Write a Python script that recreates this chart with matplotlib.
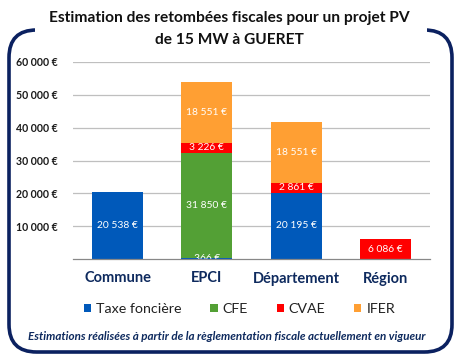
import matplotlib
matplotlib.use("Agg")
import matplotlib.pyplot as plt
from matplotlib.patches import FancyBboxPatch, Patch, Rectangle
import numpy as np

categories = ["Commune", "EPCI", "Département", "Région"]
series_names = ["Taxe foncière", "CFE", "CVAE", "IFER"]
taxe_fonciere = [20538, 366, 20195, 0]
cfe = [0, 31850, 0, 0]
cvae = [0, 3226, 2861, 6086]
ifer = [0, 18551, 18551, 0]
yticks = [10000, 20000, 30000, 40000, 50000, 60000]
ytick_labels = ["10 000 €", "20 000 €", "30 000 €", "40 000 €", "50 000 €", "60 000 €"]

colors = ["#0059BA", "#53A035", "#FF0000", "#FF9F33"]
navy = "#0E2A5E"
plt.rcParams['font.family'] = ['Lato', 'DejaVu Sans']

W, H = 459, 358
fig = plt.figure(figsize=(W/100, H/100), dpi=100)

# frame
frame = FancyBboxPatch((9/W, 6/H), 443/W, 322/H,
                       boxstyle="round,pad=0,rounding_size=0.06",
                       transform=fig.transFigure, fill=False,
                       edgecolor="#0B2160", linewidth=2.6, zorder=0,
                       mutation_aspect=W/H)
fig.patches.append(frame)
fig.patches.append(Rectangle((35/W, 318/H), 392/W, 20/H, transform=fig.transFigure,
                             facecolor="white", edgecolor="none", zorder=1))

fig.text(0.5, 1-18/H, "Estimation des retombées fiscales pour un projet PV",
         ha="center", va="center", fontsize=11.2, fontweight="bold", color="#111111")
fig.text(0.5, 1-40/H, "de 15 MW à GUERET",
         ha="center", va="center", fontsize=11.2, fontweight="bold", color="#111111")

ax = fig.add_axes([73/W, 1-259/H, 357/W, 197/H])
x = np.arange(len(categories))
width = 0.57
series = [taxe_fonciere, cfe, cvae, ifer]
bottom = np.zeros(len(categories))
for vals, col in zip(series, colors):
    vals = np.array(vals, dtype=float)
    ax.bar(x, vals, width, bottom=bottom, color=col, zorder=3)
    for xi, v, b in zip(x, vals, bottom):
        if v > 0:
            lab = f"{int(v):,}".replace(",", " ") + " €"
            ax.text(xi, b + v/2, lab, ha="center", va="center", color="white",
                    fontsize=7.4, zorder=4, clip_on=True)
    bottom += vals

ax.set_xlim(-0.5, len(categories) - 0.5)
ax.set_ylim(0, 60000)
ax.set_yticks(yticks)
ax.set_yticklabels(ytick_labels, fontsize=7.6, fontweight="bold", color="#1a1a1a")
ax.yaxis.grid(True, color="#BFBFBF", linewidth=0.9, zorder=0)
ax.set_axisbelow(True)
for s in ["top", "right", "left"]:
    ax.spines[s].set_visible(False)
ax.spines["bottom"].set_color("#888888")
ax.spines["bottom"].set_linewidth(0.9)
ax.spines["bottom"].set_zorder(5)
ax.tick_params(axis="y", length=0, pad=11)
ax.tick_params(axis="x", length=0, pad=9)
ax.set_xticks(x)
ax.set_xticklabels(categories, fontsize=10.5, fontweight="bold", color=navy)

handles = [Patch(facecolor=c, edgecolor="none") for c in colors]
leg = fig.legend(handles, series_names, loc="center", bbox_to_anchor=(0.522, 1-309/H),
                 ncol=4, frameon=False, fontsize=10.3, handlelength=0.5, handleheight=0.5,
                 handletextpad=0.35, columnspacing=2.0, labelcolor="#222222")

fig.text(0.493, 1-337/H, "Estimations réalisées à partir de la règlementation fiscale actuellement en vigueur",
         ha="center", va="center", fontsize=8.4, fontweight="bold", fontstyle="italic", color=navy)

fig.savefig("out.png", dpi=100)
